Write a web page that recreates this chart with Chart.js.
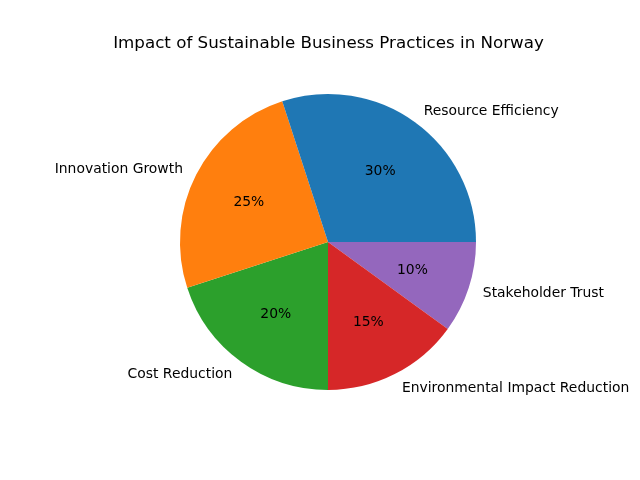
<!DOCTYPE html>
<html>
<head>
<meta charset="utf-8">
<script src="https://cdn.jsdelivr.net/npm/chart.js@4"></script>
<style>
    body { margin: 0; background: #ffffff; }
    canvas { display: block; }
</style>
</head>
<body>
<canvas id="pie" width="640" height="480"></canvas>
<script>
const title = 'Impact of Sustainable Business Practices in Norway';
const categories = ['Resource Efficiency', 'Innovation Growth', 'Cost Reduction', 'Environmental Impact Reduction', 'Stakeholder Trust'];
const values = [30, 25, 20, 15, 10];
const colors = ['#1f77b4', '#ff7f0e', '#2ca02c', '#d62728', '#9467bd'];

// matplotlib goes counterclockwise from 3 o'clock, Chart.js clockwise -> reverse order
const revLabels = categories.slice().reverse();
const revValues = values.slice().reverse();
const revColors = colors.slice().reverse();
const total = values.reduce((a, b) => a + b, 0);

const font = '"DejaVu Sans", sans-serif';

const pieText = {
    id: 'pieText',
    afterDatasetsDraw(chart) {
        const ctx = chart.ctx;
        const meta = chart.getDatasetMeta(0);
        ctx.save();
        meta.data.forEach((arc, i) => {
            const p = arc.getProps(['x', 'y', 'startAngle', 'endAngle', 'outerRadius']);
            const mid = (p.startAngle + p.endAngle) / 2;
            const cx = Math.cos(mid), cy = Math.sin(mid);
            ctx.fillStyle = '#000000';
            ctx.font = '13.9px ' + font;
            ctx.textBaseline = 'middle';
            // category label at 1.1 radius
            ctx.textAlign = cx > 0 ? 'left' : 'right';
            ctx.fillText(revLabels[i], p.x + cx * p.outerRadius * 1.1, p.y + cy * p.outerRadius * 1.1 + 1);
            // percentage at 0.6 radius
            ctx.textAlign = 'center';
            const pct = Math.round(revValues[i] / total * 100) + '%';
            ctx.fillText(pct, p.x + cx * p.outerRadius * 0.6, p.y + cy * p.outerRadius * 0.6 + 1);
        });
        ctx.font = '16.7px ' + font;
        ctx.textAlign = 'center';
        ctx.textBaseline = 'middle';
        ctx.fillText(title, 328.5, 44);
        ctx.restore();
    }
};

const pie = new Chart(document.getElementById('pie'), {
    type: 'pie',
    data: {
        labels: revLabels,
        datasets: [{
            data: revValues,
            backgroundColor: revColors,
            borderWidth: 0,
        }]
    },
    options: {
        responsive: false,
        animation: false,
        devicePixelRatio: 1,
        rotation: 90,
        layout: {
            padding: { top: 94, bottom: 90, left: 180, right: 164 }
        },
        plugins: {
            legend: { display: false },
            tooltip: { enabled: false },
        }
    },
    plugins: [pieText]
});
</script>
</body>
</html>
